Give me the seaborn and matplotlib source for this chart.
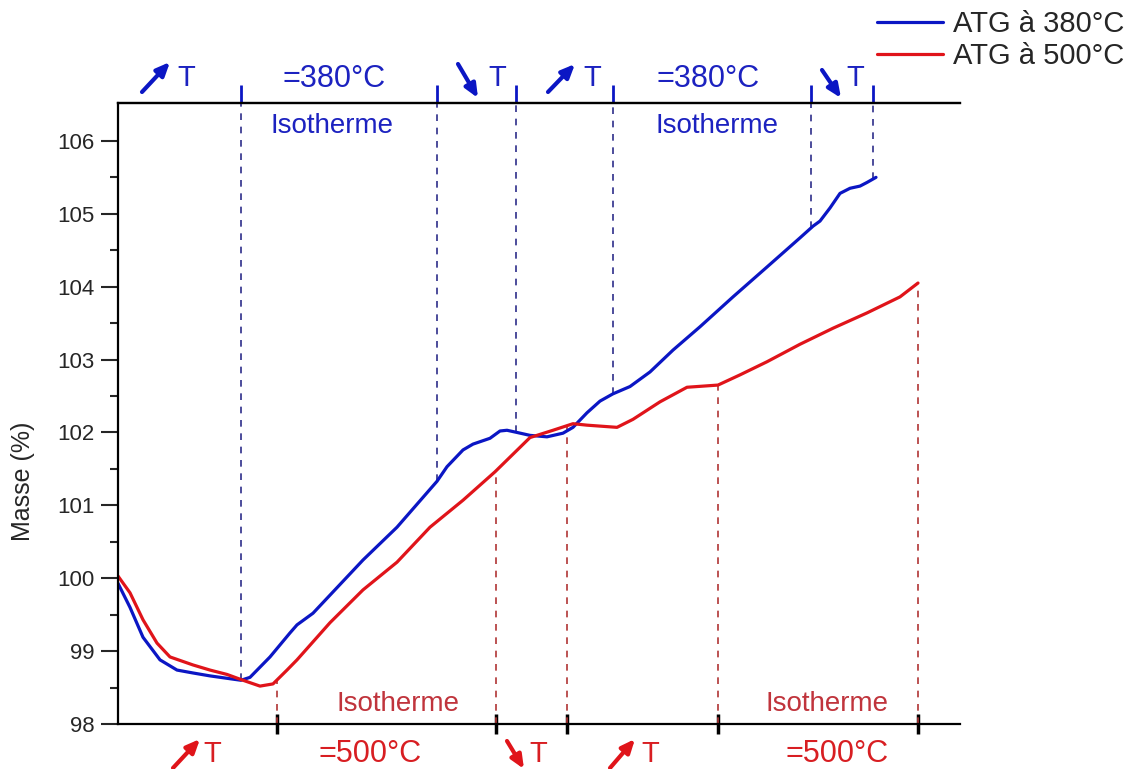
import numpy as np
import pandas as pd
import matplotlib.pyplot as plt
import seaborn as sns

# ATG curves, mass (%) vs time (arbitrary units)
blue_t = [0, 12, 25, 42, 59, 75, 92, 123, 132, 152, 172, 179, 195, 245, 279, 319, 329, 345, 355,
          372, 382, 389, 399, 412, 429, 445, 455, 469, 482, 495, 512, 532, 555, 582, 615,
          649, 682, 695, 702, 712, 722, 732, 742, 749, 758]
blue_m = [99.93, 99.60, 99.19, 98.88, 98.74, 98.70, 98.66, 98.60, 98.64, 98.92, 99.25, 99.36, 99.52,
          100.25, 100.70, 101.33, 101.53, 101.76, 101.84, 101.92, 102.02, 102.03, 102.00, 101.96,
          101.94, 101.99, 102.07, 102.27, 102.43, 102.53, 102.63, 102.83, 103.13, 103.45, 103.86,
          104.27, 104.67, 104.83, 104.90, 105.08, 105.28, 105.35, 105.38, 105.43, 105.50]

red_t = [0, 12, 25, 39, 52, 75, 92, 109, 125, 142, 155, 169, 179, 212, 245, 279, 312, 345,
         377, 412, 435, 455, 469, 499, 515, 542, 569, 600, 622, 649, 682, 715, 749, 782, 800]
red_m = [100.03, 99.80, 99.43, 99.11, 98.92, 98.81, 98.74, 98.68, 98.60, 98.52, 98.55, 98.74,
         98.88, 99.39, 99.84, 100.22, 100.70, 101.07, 101.46, 101.93, 102.03, 102.12, 102.10,
         102.07, 102.18, 102.42, 102.62, 102.65, 102.79, 102.97, 103.21, 103.43, 103.64, 103.86,
         104.05]

# segment boundaries (heating / isotherm / cooling)
blue_bounds = [123, 319, 398, 495, 693, 755]
red_bounds = [159, 378, 449, 600, 800]

series = ["ATG à 380°C", "ATG à 500°C"]

BLUE = "#0b16c4"
RED = "#e0141a"

df = pd.concat([
    pd.DataFrame({"t": blue_t, "masse": blue_m, "serie": series[0]}),
    pd.DataFrame({"t": red_t, "masse": red_m, "serie": series[1]}),
])

sns.set_style("ticks")
plt.rcParams["font.family"] = ["Liberation Sans", "DejaVu Sans"]

W, H = 1128, 769
fig = plt.figure(figsize=(W / 100, H / 100), dpi=100)
ax = fig.add_axes([118 / W, 45 / H, 842 / W, 621 / H])

sns.lineplot(data=df, x="t", y="masse", hue="serie", palette=[BLUE, RED],
             sort=False, lw=2.3, ax=ax)

ymin, ymax = 98, 106.52
ax.set_xlim(0, 842)
ax.set_ylim(ymin, ymax)

# dashed guides from the axes to the curves
ax.vlines(blue_bounds, np.interp(blue_bounds, blue_t, blue_m), ymax,
          colors="#2d2d8a", linestyles=(0, (4, 4)), lw=1.2, zorder=1)
ax.vlines(red_bounds, ymin, np.interp(red_bounds, red_t, red_m),
          colors="#b03535", linestyles=(0, (4, 4)), lw=1.2, zorder=1)

# axes styling
ax.spines["right"].set_visible(False)
for s in ["left", "bottom", "top"]:
    ax.spines[s].set_linewidth(1.6)
    ax.spines[s].set_color("black")
ax.set_yticks(range(98, 107))
ax.set_yticks(np.arange(98.5, 106.5, 1), minor=True)
ax.tick_params(axis="y", which="major", length=12, width=1.5, labelsize=16, pad=5)
ax.tick_params(axis="y", which="minor", length=6, width=1.5)
ax.set_xticks(red_bounds)
ax.tick_params(axis="x", direction="inout", length=14, width=2.5, color="black",
               labelbottom=False)
ax.set_xlabel("")
ax.set_ylabel("Masse (%)", fontsize=18)
ax.yaxis.set_label_coords(-0.098, 0.39)

sec = ax.secondary_xaxis("top")
sec.set_xticks(blue_bounds)
sec.tick_params(direction="out", length=13, width=2, color=BLUE, labeltop=False)
sec.spines["top"].set_linewidth(1.6)

# legend
handles, labels = ax.get_legend_handles_labels()
ax.get_legend().remove()
fig.legend(handles, labels, loc="upper left", bbox_to_anchor=(877 / W, 1 - 10 / H),
           frameon=False, fontsize=21, handlelength=2.25, handletextpad=0.35,
           labelspacing=0.15, borderpad=0, borderaxespad=0)


def fxy(px, py):
    return px / W, 1 - py / H


def label(px, py, s, color, size):
    fig.text(*fxy(px, py), s, color=color, fontsize=size, ha="center", va="center")


def arrow(p0, p1, color):
    ax.annotate("", xy=fxy(*p1), xycoords="figure fraction",
                xytext=fxy(*p0), textcoords="figure fraction",
                arrowprops=dict(arrowstyle="-|>,head_length=0.8,head_width=0.35",
                                lw=3, color=color, shrinkA=0, shrinkB=0),
                annotation_clip=False)


TB = "#1c22c0"
TR = "#d81e22"
IR = "#c0343c"

# top annotations (380 °C run)
arrow((142, 92), (170, 62), BLUE)
label(186, 78, "T", TB, 21)
label(334, 79, "=380°C", TB, 22)
label(332, 126, "Isotherme", TB, 20)
arrow((458, 64), (478, 98), BLUE)
label(497, 78, "T", TB, 21)
arrow((548, 92), (575, 64), BLUE)
label(592, 78, "T", TB, 21)
label(708, 79, "=380°C", TB, 22)
label(717, 126, "Isotherme", TB, 20)
arrow((822, 70), (841, 98), BLUE)
label(855, 78, "T", TB, 21)

# bottom annotations (500 °C run)
arrow((173, 768), (200, 739), RED)
label(212, 754, "T", TR, 21)
label(370, 754, "=500°C", TR, 22)
label(398, 704, "Isotherme", IR, 20)
arrow((507, 741), (524, 769), RED)
label(538, 754, "T", TR, 21)
arrow((610, 768), (635, 739), RED)
label(650, 754, "T", TR, 21)
label(837, 754, "=500°C", TR, 22)
label(827, 704, "Isotherme", IR, 20)

fig.savefig("out.png", dpi=100)
